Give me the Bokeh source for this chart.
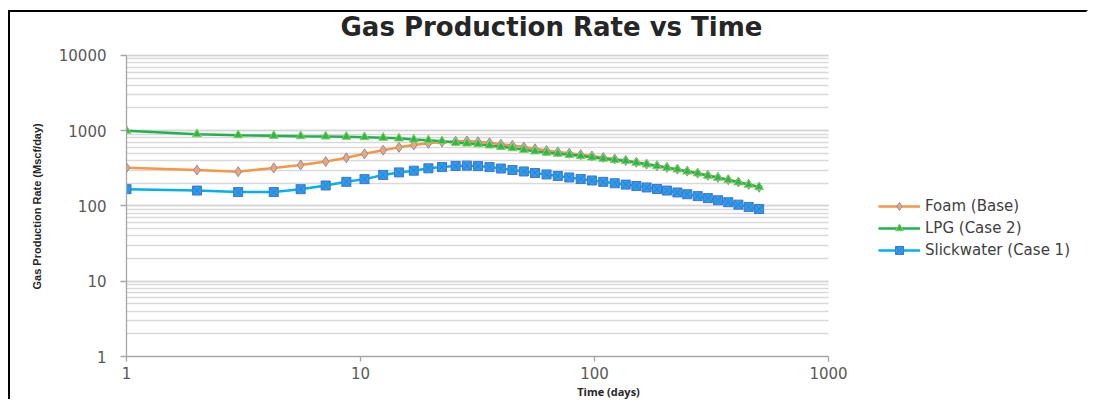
from bokeh.plotting import figure
from bokeh.models import Legend, LegendItem, NumeralTickFormatter, LogTicker, Label, Title
from bokeh.embed import file_html
from bokeh.resources import INLINE

days = [1, 2, 3, 4.26, 5.55, 7.1, 8.7, 10.4, 12.5, 14.6, 16.9, 19.5, 22.3,
        25.5, 28.5, 31.8, 35.6, 39.8, 44.6, 49.9, 55.7, 62.4, 69.7, 78, 87.3, 97.5, 109, 122, 136,
        151, 167, 185, 204, 226, 249, 276, 305, 337, 373, 412, 456, 505]

foam = [322, 300, 285, 320, 350, 388, 436, 492, 550, 600, 645, 678, 708,
        725, 730, 712, 690, 662, 637, 605, 575, 545, 522, 500, 480, 460, 440, 420, 402,
        380, 360, 342, 325, 308, 290, 273, 255, 239, 223, 208, 193, 177]

lpg = [1000, 899, 870, 855, 845, 838, 830, 820, 805, 790, 764, 748, 726,
       689, 676, 662, 637, 610, 586, 556, 532, 510, 495, 477, 459, 442, 424, 408, 395,
       375, 357, 339, 322, 306, 287, 271, 252, 237, 221, 206, 192, 178]

slick = [167, 160, 153, 153, 167, 187, 209, 227, 258, 279, 294, 316, 328,
         340, 343, 338, 328, 314, 300, 287, 274, 262, 250, 239, 228, 218, 209, 200, 192,
         184, 176, 168, 160, 151, 143, 135, 127, 119, 112, 104, 97, 91]

series_names = ["Foam (Base)", "LPG (Case 2)", "Slickwater (Case 1)"]
title_text = "Gas Production Rate vs Time"
y_label = "Gas Production Rate (Mscf/day)"
x_label = "Time (days)"
x_bounds = (1, 1000)
y_bounds = (1, 10000)

# frame spans the whole canvas to the right and top; axes/grid are bounded
X_END = 10 ** (964 / 234)
Y_END = 10 ** (4 + 43 / 75.5)

p = figure(width=1080, height=389, x_axis_type="log", y_axis_type="log",
           x_range=(1, X_END), y_range=(1, Y_END),
           output_backend="svg", toolbar_location=None,
           min_border_left=116, min_border_right=0, min_border_top=0, min_border_bottom=44,
           styles={"border-left": "2px solid #000000", "border-top": "2px solid #000000",
                   "border-right": "2px solid #ffffff", "border-bottom": "0px solid #ffffff",
                   "margin-left": "8px", "margin-top": "10px"})
p.title = None

p.outline_line_color = None
p.background_fill_color = "white"
p.border_fill_color = "white"

# grid
p.xgrid.grid_line_color = None
p.ygrid.grid_line_color = "#d4d4d4"
p.ygrid.grid_line_width = 1.3
p.ygrid.minor_grid_line_color = "#d9d9d9"
p.ygrid.minor_grid_line_width = 1.3
p.ygrid.bounds = y_bounds
p.ygrid.cross_bounds = x_bounds

p.yaxis.ticker = LogTicker(desired_num_ticks=5, num_minor_ticks=10)
p.xaxis.ticker = LogTicker(desired_num_ticks=4, num_minor_ticks=0)
p.ygrid.ticker = p.yaxis.ticker
p.xaxis.bounds = x_bounds
p.yaxis.bounds = y_bounds

for ax in (p.xaxis, p.yaxis):
    ax.formatter = NumeralTickFormatter(format="0")
    ax.axis_line_color = "#a6a6a6"
    ax.axis_line_width = 1.3
    ax.major_tick_line_color = "#a6a6a6"
    ax.major_tick_line_width = 1.3
    ax.major_tick_out = 6
    ax.major_tick_in = 0
    ax.minor_tick_line_color = None
    ax.major_label_text_font = "DejaVu Sans"
    ax.major_label_text_font_size = "15px"
    ax.major_label_text_color = "#595959"
    ax.axis_label_text_font_style = "bold"
    ax.axis_label_text_color = "#262626"

p.yaxis.major_label_standoff = 14
p.xaxis.major_tick_out = 5
p.xaxis.major_label_standoff = 5
p.xaxis.axis_label = x_label
p.xaxis.axis_label_text_font = "Open Sans"
p.xaxis.axis_label_text_font_size = "11px"
p.xaxis.axis_label_standoff = 2

# vertical axis title, placed along the bounded axis
ytitle = Title(text=y_label, align="left", offset=67, standoff=25,
               text_font="Liberation Sans", text_font_style="bold",
               text_font_size="11px", text_color="#262626")
p.add_layout(ytitle, "left")

# chart title drawn inside the (extended) frame, centred over the whole chart
title = Label(x=10 ** ((551 - 126) / 234), y=10 ** (4 + 28 / 75.5), text=title_text,
              text_font="DejaVu Sans", text_font_style="bold", text_font_size="26px",
              text_color="#262626", text_align="center", text_baseline="middle")
p.add_layout(title)

# series
fl = p.line(days, foam, line_color="#f79646", line_width=2.5)
fm = p.scatter(days, foam, marker="diamond", size=10, fill_color="#f2a66f", line_color="#8a8fb0", line_width=1)
gl = p.line(days, lpg, line_color="#22b14c", line_width=2.5)
gm = p.scatter(days, lpg, marker="triangle", size=9, fill_color="#2fb84a", line_color="#86cf62", line_width=1)
bl = p.line(days, slick, line_color="#00b0f0", line_width=2.5)
bm = p.scatter(days, slick, marker="square_x", size=9, fill_color="#1ea3ec", line_color="#4a72d0", line_width=1)

legend = Legend(items=[
    LegendItem(label=series_names[0], renderers=[fl, fm]),
    LegendItem(label=series_names[1], renderers=[gl, gm]),
    LegendItem(label=series_names[2], renderers=[bl, bm]),
], location=(752, 96))
legend.border_line_color = None
legend.background_fill_alpha = 0
legend.label_text_font = "DejaVu Sans"
legend.label_text_font_size = "15px"
legend.label_text_color = "#404040"
legend.glyph_width = 42
legend.glyph_height = 20
legend.spacing = 2
legend.padding = 0
legend.margin = 0
legend.label_standoff = 5
p.add_layout(legend, "center")

open("out.html", "w").write(file_html(p, INLINE))
